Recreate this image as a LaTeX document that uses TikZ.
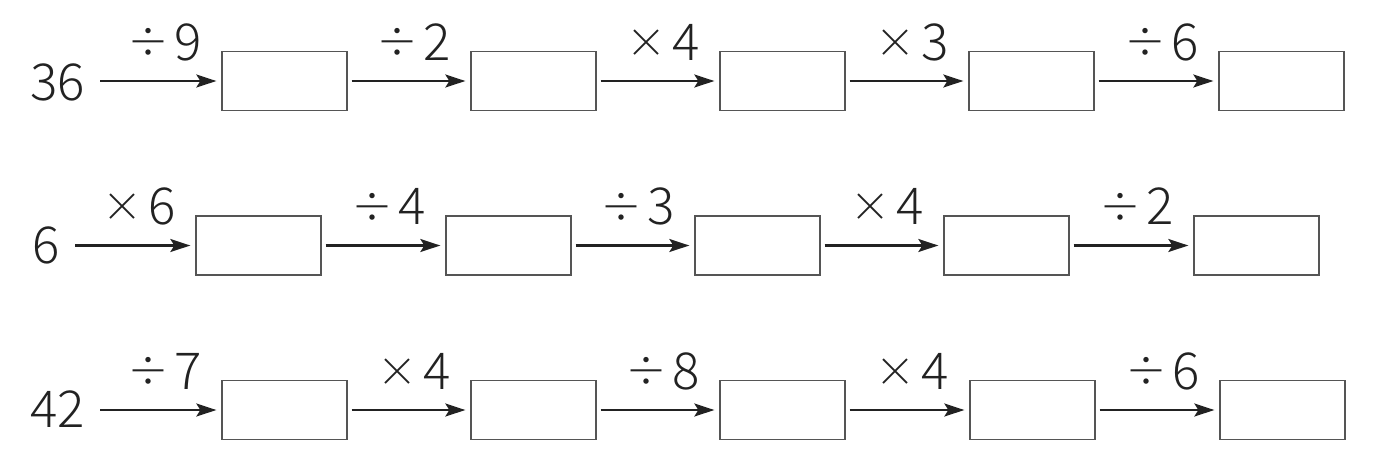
\documentclass[tikz,border=0pt]{standalone}
\usepackage{fontspec}
\IfFontExistsTF{Noto Sans CJK JP Light}{\setmainfont{Noto Sans CJK JP Light}}{\setmainfont{Noto Sans CJK JP}}
\usetikzlibrary{arrows.meta}
\definecolor{ink}{HTML}{222222}
\definecolor{boxline}{HTML}{555555}
\newcommand{\opdiv}{\raisebox{2.5pt}{\fontsize{42}{42}\selectfont ÷}\hspace{5pt}}
\newcommand{\optimes}{\raisebox{3pt}{\fontsize{40}{40}\selectfont ×}\hspace{6pt}}
\tikzset{
  box/.style={draw=boxline, line width=1.3pt, minimum width=125pt, minimum height=59pt, inner sep=0pt},
  num/.style={inner sep=0pt, font=\fontsize{51}{51}\selectfont, text=ink},
  lab/.style={inner sep=0pt, font=\fontsize{51}{51}\selectfont, text=ink, anchor=base, yshift=21pt},
  arr/.style={draw=ink, line width=2.2pt, -{Stealth[length=20pt,width=13pt,inset=4pt]}},
  first/.style={arr, shorten <=15pt, shorten >=5pt},
  mid/.style={arr, shorten <=4pt, shorten >=5pt},
}
\begin{document}
\begin{tikzpicture}[x=1pt,y=-1pt]
\useasboundingbox (0,0) rectangle (1374,459);
% row 1
\node[num, anchor=base east] (n1) at (85,100) {36};
\node[box] (b11) at (284.5,81) {};
\node[box] (b12) at (533.5,81) {};
\node[box] (b13) at (782.5,81) {};
\node[box] (b14) at (1031.5,81) {};
\node[box] (b15) at (1281.5,81) {};
\draw[first] (n1.east |- b11.west) -- node[lab, xshift=11pt]{\opdiv 9} (b11.west);
\draw[mid] (b11.east) -- node[lab, xshift=5pt]{\opdiv 2} (b12.west);
\draw[mid] (b12.east) -- node[lab, xshift=5pt]{\optimes 4} (b13.west);
\draw[mid] (b13.east) -- node[lab, xshift=5pt]{\optimes 3} (b14.west);
\draw[mid] (b14.east) -- node[lab, xshift=5pt]{\opdiv 6} (b15.west);
% row 2
\node[num, anchor=base east] (n2) at (60,263) {6};
\node[box] (b21) at (258.5,245.5) {};
\node[box] (b22) at (508.5,245.5) {};
\node[box] (b23) at (757.5,245.5) {};
\node[box] (b24) at (1006.5,245.5) {};
\node[box] (b25) at (1256.5,245.5) {};
\draw[first] (n2.east |- b21.west) -- node[lab, xshift=11pt]{\optimes 6} (b21.west);
\draw[mid] (b21.east) -- node[lab, xshift=5pt]{\opdiv 4} (b22.west);
\draw[mid] (b22.east) -- node[lab, xshift=5pt]{\opdiv 3} (b23.west);
\draw[mid] (b23.east) -- node[lab, xshift=5pt]{\optimes 4} (b24.west);
\draw[mid] (b24.east) -- node[lab, xshift=5pt]{\opdiv 2} (b25.west);
% row 3
\node[num, anchor=base east] (n3) at (85,427) {42};
\node[box] (b31) at (284.5,410) {};
\node[box] (b32) at (533.5,410) {};
\node[box] (b33) at (782.5,410) {};
\node[box] (b34) at (1032.5,410) {};
\node[box] (b35) at (1282.5,410) {};
\draw[first] (n3.east |- b31.west) -- node[lab, xshift=11pt]{\opdiv 7} (b31.west);
\draw[mid] (b31.east) -- node[lab, xshift=5pt]{\optimes 4} (b32.west);
\draw[mid] (b32.east) -- node[lab, xshift=5pt]{\opdiv 8} (b33.west);
\draw[mid] (b33.east) -- node[lab, xshift=5pt]{\optimes 4} (b34.west);
\draw[mid] (b34.east) -- node[lab, xshift=5pt]{\opdiv 6} (b35.west);
\end{tikzpicture}
\end{document}
